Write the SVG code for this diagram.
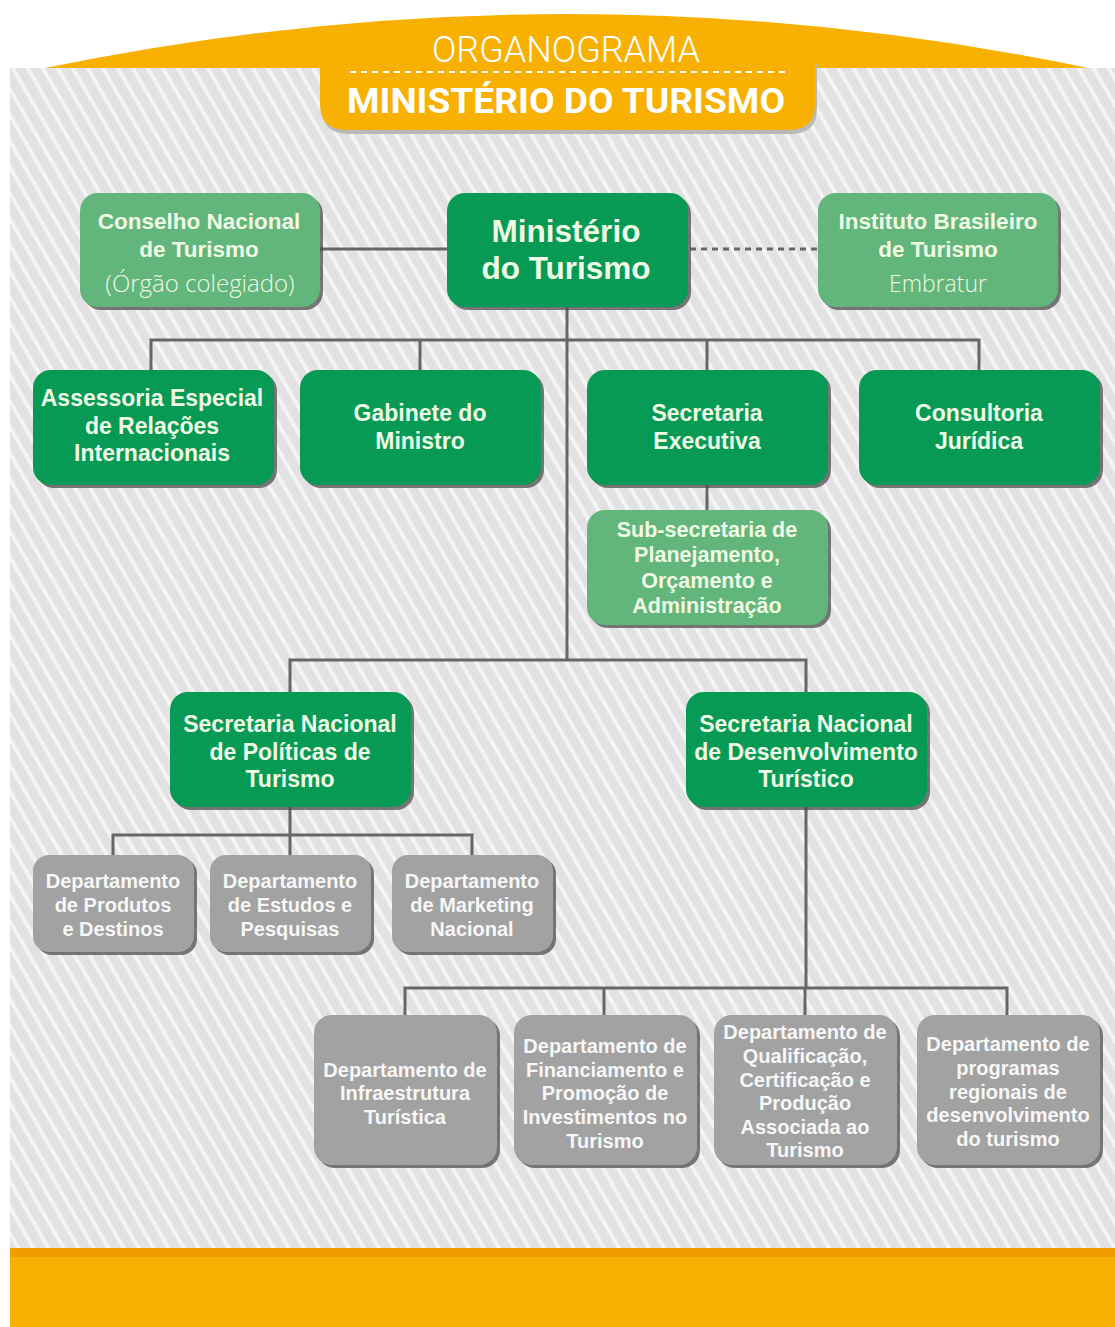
<svg xmlns="http://www.w3.org/2000/svg" width="1115" height="1327" viewBox="0 0 1115 1327">
<defs>
<pattern id="stripes" width="13" height="13" patternUnits="userSpaceOnUse" patternTransform="rotate(-30)">
<rect width="13" height="13" fill="#e2e2e2"/>
<line x1="3" y1="0" x2="3" y2="13" stroke="#f4f4f4" stroke-width="4"/>
</pattern>
</defs>
<style>
.sh{fill:#4d4d4d;opacity:.75}
.dg{fill:#079a55}
.lg{fill:#63b67b}
.gr{fill:#a2a2a2}
.t{font-family:"Liberation Sans",Arial,sans-serif;font-weight:bold;text-anchor:middle;fill:#f0fbe6}
.tl{font-family:"Open Sans",Roboto,"Liberation Sans",sans-serif;font-weight:300;text-anchor:middle;fill:#eef8e6}
.tg{font-family:"Liberation Sans",Arial,sans-serif;font-weight:bold;text-anchor:middle;fill:#f7f7f7;font-size:20px}
.c{stroke:#666;stroke-width:3;fill:none}
</style>
<rect width="1115" height="1327" fill="#ffffff"/>
<rect x="10" y="68" width="1105" height="1180" fill="url(#stripes)"/>
<rect x="10" y="1248" width="1105" height="79" fill="#f8b002"/>
<rect x="10" y="1248" width="1105" height="9" fill="#f29c00"/>
<path d="M45 68 Q567 -40 1088 68 Z" fill="#f8b002"/>
<path d="M322 64 H817 V108 Q817 134 791 134 H348 Q322 134 322 108 Z" fill="#b9b9b9"/>
<path d="M320 60 H815 V104 Q815 130 789 130 H346 Q320 130 320 104 Z" fill="#f8b002"/>
<text x="566" y="62" font-family="Roboto,'Liberation Sans',sans-serif" font-weight="300" font-size="36" fill="#ffffff" text-anchor="middle" textLength="268" lengthAdjust="spacingAndGlyphs">ORGANOGRAMA</text>
<line x1="350" y1="72" x2="785" y2="72" stroke="#ffffff" stroke-width="2" stroke-dasharray="6 5"/>
<text x="566" y="113" font-family="Roboto,'Liberation Sans',sans-serif" font-weight="bold" font-size="35" fill="#ffffff" text-anchor="middle" textLength="438" lengthAdjust="spacingAndGlyphs">MINISTÉRIO DO TURISMO</text>

<g id="connectors">
<line class="c" x1="320" y1="249" x2="447" y2="249"/>
<line x1="690" y1="249" x2="818" y2="249" stroke="#666" stroke-width="3" stroke-dasharray="6 5"/>
<line class="c" x1="567" y1="307" x2="567" y2="660"/>
<polyline class="c" points="151,370 151,340 979,340 979,370"/>
<line class="c" x1="420" y1="340" x2="420" y2="370"/>
<line class="c" x1="707" y1="340" x2="707" y2="370"/>
<line class="c" x1="707" y1="485" x2="707" y2="510"/>
<polyline class="c" points="290,692 290,660 806,660 806,692"/>
<line class="c" x1="290" y1="807" x2="290" y2="855"/>
<polyline class="c" points="113,855 113,835 472,835 472,855"/>
<line class="c" x1="806" y1="807" x2="806" y2="988"/>
<polyline class="c" points="405,1015 405,988 1007,988 1007,1015"/>
<line class="c" x1="604" y1="988" x2="604" y2="1015"/>
<line class="c" x1="805" y1="988" x2="805" y2="1015"/>
</g>

<g id="conselho">
<rect class="sh" x="83" y="196" width="240" height="114" rx="18"/>
<rect class="lg" x="80" y="193" width="240" height="114" rx="18"/>
<text class="t" x="199" y="229" font-size="22.5">Conselho Nacional</text>
<text class="t" x="199" y="257" font-size="22.5">de Turismo</text>
<text class="tl" x="200" y="292" font-size="24">(Órgão colegiado)</text>
</g>
<g id="ministerio">
<rect class="sh" x="450" y="196" width="241" height="114" rx="18"/>
<rect class="dg" x="447" y="193" width="241" height="114" rx="18"/>
<text class="t" x="566" y="242" font-size="31.5">Ministério</text>
<text class="t" x="566" y="279" font-size="31.5">do Turismo</text>
</g>
<g id="instituto">
<rect class="sh" x="821" y="196" width="240" height="114" rx="18"/>
<rect class="lg" x="818" y="193" width="240" height="114" rx="18"/>
<text class="t" x="938" y="229" font-size="22.5">Instituto Brasileiro</text>
<text class="t" x="938" y="257" font-size="22.5">de Turismo</text>
<text class="tl" x="938" y="292" font-size="23">Embratur</text>
</g>

<g id="assessoria">
<rect class="sh" x="36" y="373" width="241" height="115" rx="18"/>
<rect class="dg" x="33" y="370" width="241" height="115" rx="18"/>
<text class="t" x="152" y="406" font-size="23">Assessoria Especial</text>
<text class="t" x="152" y="434" font-size="23">de Relações</text>
<text class="t" x="152" y="461" font-size="23">Internacionais</text>
</g>
<g id="gabinete">
<rect class="sh" x="303" y="373" width="241" height="115" rx="18"/>
<rect class="dg" x="300" y="370" width="241" height="115" rx="18"/>
<text class="t" x="420" y="421" font-size="23">Gabinete do</text>
<text class="t" x="420" y="449" font-size="23">Ministro</text>
</g>
<g id="secretaria-executiva">
<rect class="sh" x="590" y="373" width="241" height="115" rx="18"/>
<rect class="dg" x="587" y="370" width="241" height="115" rx="18"/>
<text class="t" x="707" y="421" font-size="23">Secretaria</text>
<text class="t" x="707" y="449" font-size="23">Executiva</text>
</g>
<g id="consultoria">
<rect class="sh" x="862" y="373" width="241" height="115" rx="18"/>
<rect class="dg" x="859" y="370" width="241" height="115" rx="18"/>
<text class="t" x="979" y="421" font-size="23">Consultoria</text>
<text class="t" x="979" y="449" font-size="23">Jurídica</text>
</g>

<g id="subsecretaria">
<rect class="sh" x="590" y="513" width="241" height="115" rx="18"/>
<rect class="lg" x="587" y="510" width="241" height="115" rx="18"/>
<text class="t" x="707" y="537" font-size="21.5">Sub-secretaria de</text>
<text class="t" x="707" y="562" font-size="21.5">Planejamento,</text>
<text class="t" x="707" y="588" font-size="21.5">Orçamento e</text>
<text class="t" x="707" y="613" font-size="21.5">Administração</text>
</g>

<g id="sn-politicas">
<rect class="sh" x="173" y="695" width="241" height="115" rx="18"/>
<rect class="dg" x="170" y="692" width="241" height="115" rx="18"/>
<text class="t" x="290" y="732" font-size="23">Secretaria Nacional</text>
<text class="t" x="290" y="760" font-size="23">de Políticas de</text>
<text class="t" x="290" y="787" font-size="23">Turismo</text>
</g>
<g id="sn-desenvolvimento">
<rect class="sh" x="689" y="695" width="241" height="115" rx="18"/>
<rect class="dg" x="686" y="692" width="241" height="115" rx="18"/>
<text class="t" x="806" y="732" font-size="23">Secretaria Nacional</text>
<text class="t" x="806" y="760" font-size="23">de Desenvolvimento</text>
<text class="t" x="806" y="787" font-size="23">Turístico</text>
</g>

<g id="dep-produtos">
<rect class="sh" x="36" y="858" width="161" height="97" rx="16"/>
<rect class="gr" x="33" y="855" width="161" height="97" rx="16"/>
<text class="tg" x="113" y="888">Departamento</text>
<text class="tg" x="113" y="912">de Produtos</text>
<text class="tg" x="113" y="936">e Destinos</text>
</g>
<g id="dep-estudos">
<rect class="sh" x="213" y="858" width="161" height="97" rx="16"/>
<rect class="gr" x="210" y="855" width="161" height="97" rx="16"/>
<text class="tg" x="290" y="888">Departamento</text>
<text class="tg" x="290" y="912">de Estudos e</text>
<text class="tg" x="290" y="936">Pesquisas</text>
</g>
<g id="dep-marketing">
<rect class="sh" x="395" y="858" width="161" height="97" rx="16"/>
<rect class="gr" x="392" y="855" width="161" height="97" rx="16"/>
<text class="tg" x="472" y="888">Departamento</text>
<text class="tg" x="472" y="912">de Marketing</text>
<text class="tg" x="472" y="936">Nacional</text>
</g>

<g id="dep-infraestrutura">
<rect class="sh" x="317" y="1018" width="183" height="150" rx="18"/>
<rect class="gr" x="314" y="1015" width="183" height="150" rx="18"/>
<text class="tg" x="405" y="1077">Departamento de</text>
<text class="tg" x="405" y="1100">Infraestrutura</text>
<text class="tg" x="405" y="1124">Turística</text>
</g>
<g id="dep-financiamento">
<rect class="sh" x="517" y="1018" width="183" height="150" rx="18"/>
<rect class="gr" x="514" y="1015" width="183" height="150" rx="18"/>
<text class="tg" x="605" y="1053">Departamento de</text>
<text class="tg" x="605" y="1077">Financiamento e</text>
<text class="tg" x="605" y="1100">Promoção de</text>
<text class="tg" x="605" y="1124">Investimentos no</text>
<text class="tg" x="605" y="1148">Turismo</text>
</g>
<g id="dep-qualificacao">
<rect class="sh" x="717" y="1018" width="183" height="150" rx="18"/>
<rect class="gr" x="714" y="1015" width="183" height="150" rx="18"/>
<text class="tg" x="805" y="1039">Departamento de</text>
<text class="tg" x="805" y="1063">Qualificação,</text>
<text class="tg" x="805" y="1087">Certificação e</text>
<text class="tg" x="805" y="1110">Produção</text>
<text class="tg" x="805" y="1134">Associada ao</text>
<text class="tg" x="805" y="1157">Turismo</text>
</g>
<g id="dep-programas">
<rect class="sh" x="920" y="1018" width="183" height="150" rx="18"/>
<rect class="gr" x="917" y="1015" width="183" height="150" rx="18"/>
<text class="tg" x="1008" y="1051">Departamento de</text>
<text class="tg" x="1008" y="1075">programas</text>
<text class="tg" x="1008" y="1099">regionais de</text>
<text class="tg" x="1008" y="1122">desenvolvimento</text>
<text class="tg" x="1008" y="1146">do turismo</text>
</g>
</svg>
